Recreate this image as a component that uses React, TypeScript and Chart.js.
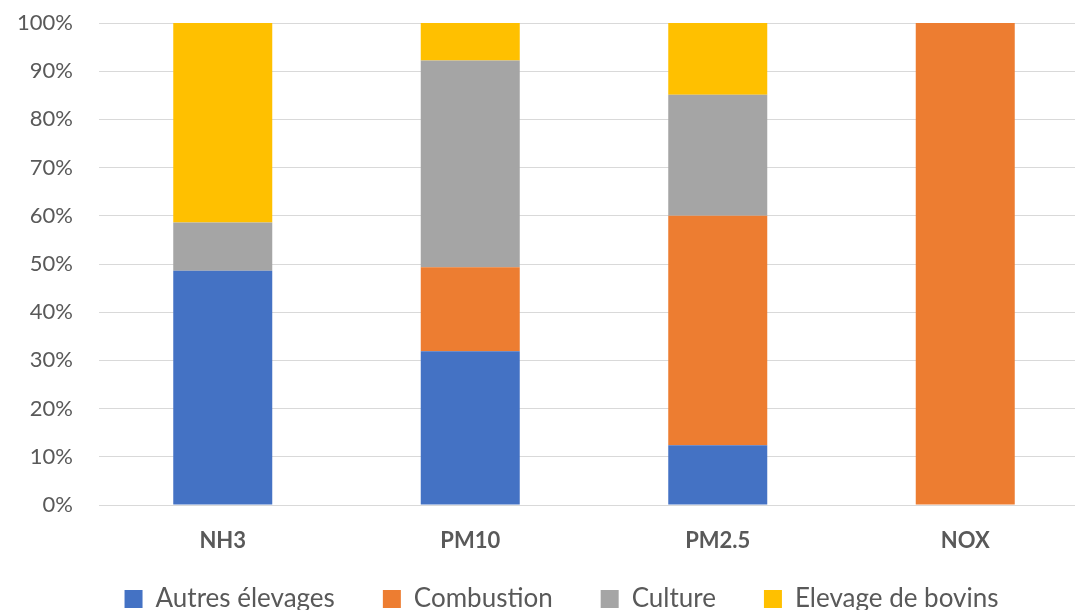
import React, { useEffect, useRef } from 'react';
import { Chart, registerables } from 'chart.js';
Chart.register(...registerables);

const categories = ['NH3', 'PM10', 'PM2.5', 'NOX'];
const autresElevages = [48.6, 31.9, 12.4, 0];
const combustion = [0, 17.4, 47.6, 100];
const culture = [10.0, 42.9, 25.1, 0];
const elevageBovins = [41.4, 7.8, 14.9, 0];
const yTicks = [0, 10, 20, 30, 40, 50, 60, 70, 80, 90, 100];

const FONT = "Lato, 'Noto Sans', sans-serif";
const TEXT = '#595959';

const shiftLegend = {
  id: 'shiftLegend',
  afterLayout(chart: any) {
    const lg = chart.legend;
    if (lg) {
      lg.left += 17; lg.right += 17;
      lg.top -= 12; lg.bottom -= 12;
    }
  },
};

export default function App() {
  const ref = useRef<HTMLCanvasElement>(null);
  useEffect(() => {
    const chart = new Chart(ref.current!, {
      type: 'bar',
      data: {
        labels: categories,
        datasets: [
          { label: 'Autres élevages', data: autresElevages, backgroundColor: '#4472C4', borderWidth: 0 },
          { label: 'Combustion', data: combustion, backgroundColor: '#ED7D31', borderWidth: 0 },
          { label: 'Culture', data: culture, backgroundColor: '#A5A5A5', borderWidth: 0 },
          { label: 'Elevage de bovins', data: elevageBovins, backgroundColor: '#FFC000', borderWidth: 0 },
        ],
      },
      plugins: [shiftLegend],
      options: {
        responsive: false,
        animation: false,
        layout: { padding: { left: 0, right: 11, top: 23, bottom: 0 } },
        datasets: { bar: { barPercentage: 0.4, categoryPercentage: 1 } },
        plugins: {
          tooltip: { enabled: false },
          legend: {
            position: 'bottom',
            labels: {
              boxWidth: 18,
              boxHeight: 18,
              padding: 48,
              color: TEXT,
              font: { family: FONT, size: 26 },
            },
          },
        },
        scales: {
          x: {
            stacked: true,
            grid: { display: false },
            border: { display: false },
            ticks: { color: TEXT, font: { family: FONT, size: 22, weight: 'bold' }, padding: 15 },
            afterFit: (s: any) => { s.height = 45; },
          },
          y: {
            stacked: true,
            min: 0,
            max: 100,
            afterBuildTicks: (s: any) => { s.ticks = yTicks.map((v) => ({ value: v })); },
            grid: { color: '#d9d9d9', lineWidth: 1, drawTicks: false },
            border: { display: false },
            ticks: {
              color: TEXT,
              padding: 26,
              font: { family: FONT, size: 22 },
              callback: (v: any) => v + '%',
            },
            afterFit: (s: any) => { s.width = 99; s.paddingTop = 0; s.paddingBottom = 0; },
          },
        },
      },
    });
    return () => chart.destroy();
  }, []);
  return (
    <div style={{ position: 'fixed', left: 0, top: 0, width: 1075, height: 610, overflow: 'hidden', background: '#fff' }}>
      <canvas ref={ref} width={1100} height={634} style={{ display: 'block' }} />
    </div>
  );
}
